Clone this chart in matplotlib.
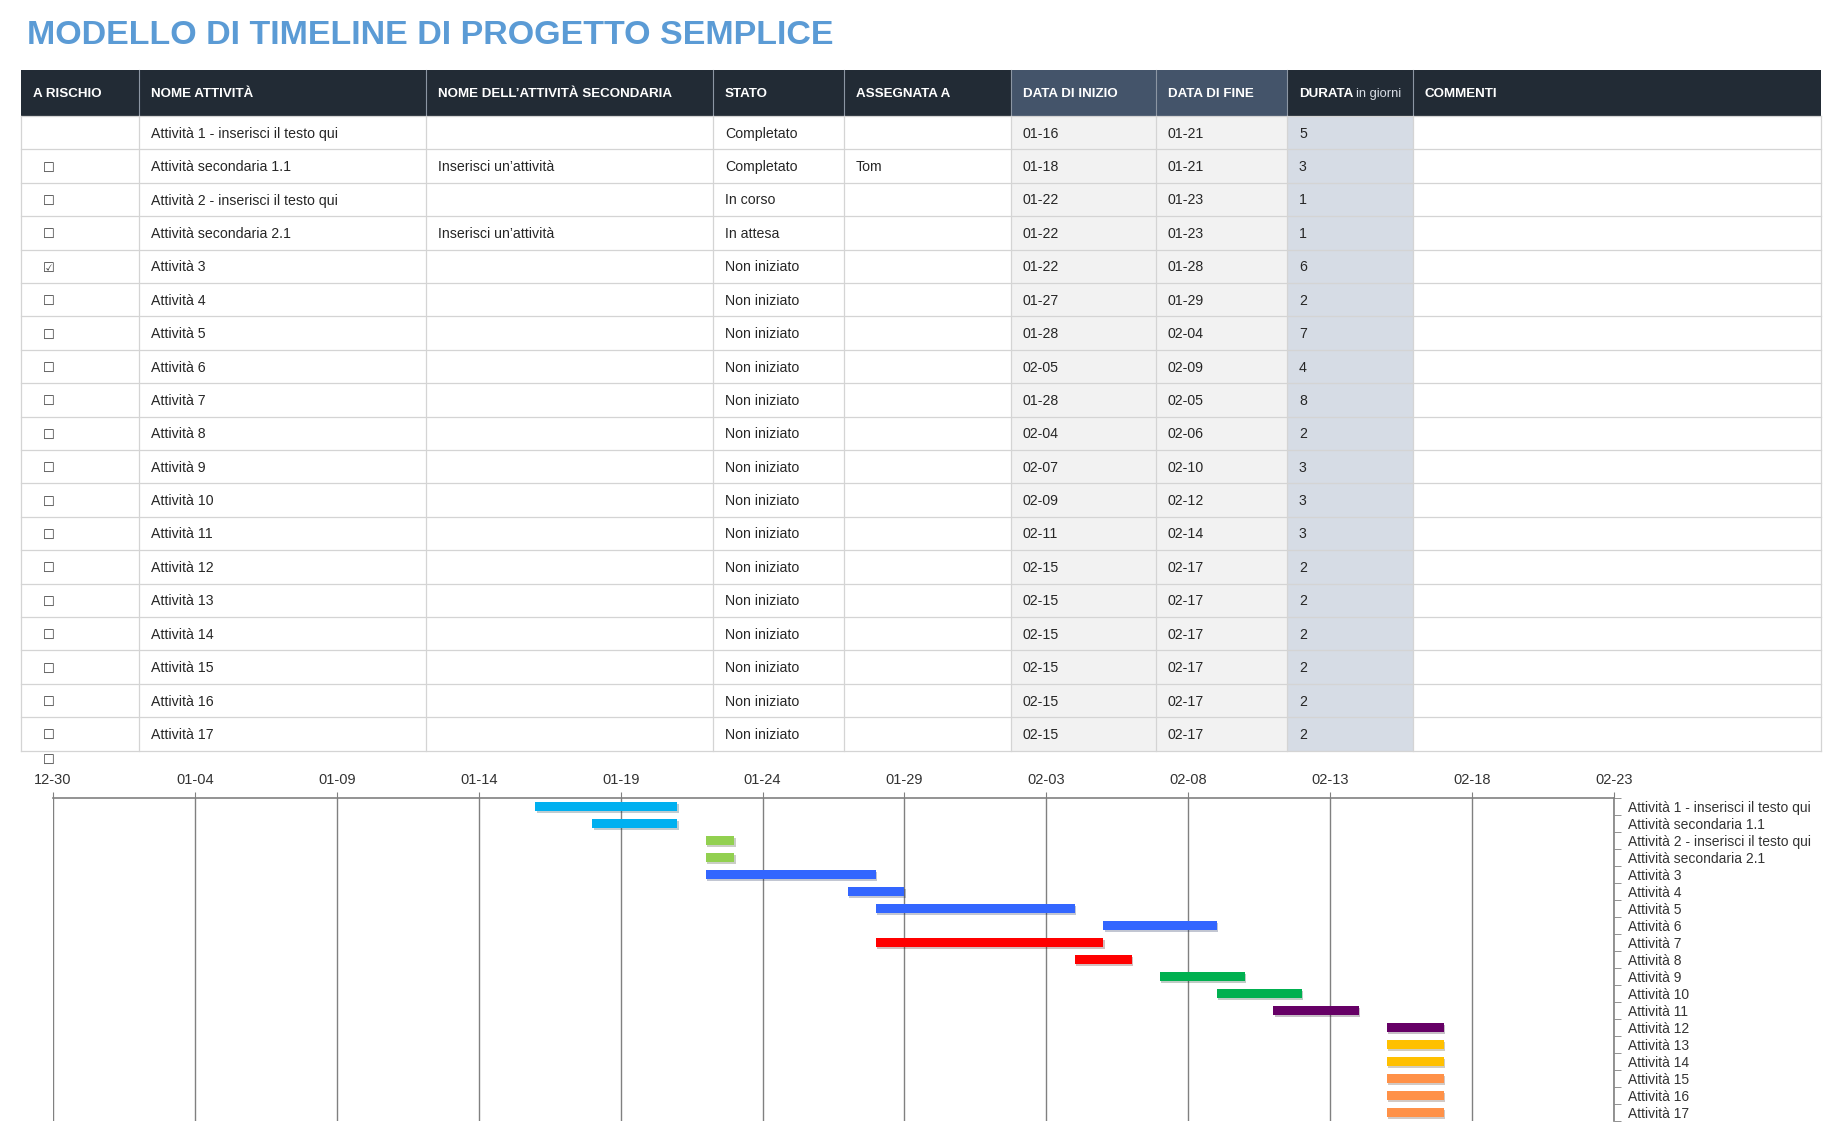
import datetime as dt
import matplotlib
matplotlib.use("Agg")
import matplotlib.pyplot as plt
import matplotlib.dates as mdates
import matplotlib.patheffects as pe
from matplotlib.patches import Rectangle

NARROW = ['Liberation Sans Narrow', 'Liberation Sans', 'DejaVu Sans']

TITLE = "MODELLO DI TIMELINE DI PROGETTO SEMPLICE"

headers = ["A RISCHIO", "NOME ATTIVITÀ", "NOME DELL’ATTIVITÀ SECONDARIA", "STATO",
           "ASSEGNATA A", "DATA DI INIZIO", "DATA DI FINE", "DURATA", "COMMENTI"]

tasks = ["Attività 1 - inserisci il testo qui", "Attività secondaria 1.1",
         "Attività 2 - inserisci il testo qui", "Attività secondaria 2.1",
         "Attività 3", "Attività 4", "Attività 5", "Attività 6", "Attività 7",
         "Attività 8", "Attività 9", "Attività 10", "Attività 11", "Attività 12",
         "Attività 13", "Attività 14", "Attività 15", "Attività 16", "Attività 17"]

sub_tasks = ["", "Inserisci un’attività", "", "Inserisci un’attività", "", "", "", "", "",
             "", "", "", "", "", "", "", "", "", ""]

stati = ["Completato", "Completato", "In corso", "In attesa", "Non iniziato", "Non iniziato",
         "Non iniziato", "Non iniziato", "Non iniziato", "Non iniziato", "Non iniziato",
         "Non iniziato", "Non iniziato", "Non iniziato", "Non iniziato", "Non iniziato",
         "Non iniziato", "Non iniziato", "Non iniziato"]

assegnata = ["", "Tom", "", "", "", "", "", "", "", "", "", "", "", "", "", "", "", "", ""]

# None = no box, False = empty box, True = ticked
a_rischio = [None, False, False, False, True, False, False, False, False, False,
             False, False, False, False, False, False, False, False, False]

start = ["01-16", "01-18", "01-22", "01-22", "01-22", "01-27", "01-28", "02-05", "01-28",
         "02-04", "02-07", "02-09", "02-11", "02-15", "02-15", "02-15", "02-15", "02-15", "02-15"]
end = ["01-21", "01-21", "01-23", "01-23", "01-28", "01-29", "02-04", "02-09", "02-05",
       "02-06", "02-10", "02-12", "02-14", "02-17", "02-17", "02-17", "02-17", "02-17", "02-17"]
durata = [5, 3, 1, 1, 6, 2, 7, 4, 8, 2, 3, 3, 3, 2, 2, 2, 2, 2, 2]

bar_colors = ["#00B0F0", "#00B0F0", "#92D050", "#92D050", "#3366FF", "#3366FF", "#3366FF",
              "#3366FF", "#FF0000", "#FF0000", "#00B050", "#00B050", "#660066", "#660066",
              "#FFC000", "#FFC000", "#FF9148", "#FF9148", "#FF9148"]

# layout (pixels)
W, H = 1841, 1134
col_x = [21, 139, 426, 713, 844, 1011, 1156, 1287, 1413, 1821]
head_top, head_bot = 70, 116
row_h = 33.4

fig = plt.figure(figsize=(W / 100, H / 100), dpi=100)
ax = fig.add_axes([0, 0, 1, 1])
ax.set_xlim(0, W)
ax.set_ylim(H, 0)
ax.axis("off")

ax.text(27, 35, TITLE, fontsize=24.5, fontweight="bold", color="#5B9BD5",
        va="center", ha="left", family=NARROW)

# header
for i in range(len(headers)):
    c = "#44546A" if i in (5, 6) else "#222B35"
    ax.add_patch(Rectangle((col_x[i], head_top), col_x[i + 1] - col_x[i], head_bot - head_top,
                           facecolor=c, edgecolor="none"))
for x in col_x[1:-1]:
    ax.plot([x, x], [head_top, head_bot], color="#8C96A3", lw=0.8)

hy = (head_top + head_bot) / 2 + 1
renderer = fig.canvas.get_renderer()
for i, h in enumerate(headers):
    t = ax.text(col_x[i] + 12, hy, h, fontsize=9.6, fontweight="bold", color="white",
                va="center", ha="left", family=NARROW)
    if h == "DURATA":
        bb = t.get_window_extent(renderer)
        ax.text(col_x[i] + 12 + bb.width + 3, hy, "in giorni", fontsize=9.3, color="#D9DEE6",
                va="center", ha="left", family=NARROW)

# body
n = len(tasks)
body_bot = head_bot + n * row_h
ax.add_patch(Rectangle((col_x[5], head_bot), col_x[7] - col_x[5], n * row_h,
                       facecolor="#F2F2F2", edgecolor="none"))
ax.add_patch(Rectangle((col_x[7], head_bot), col_x[8] - col_x[7], n * row_h,
                       facecolor="#D6DCE5", edgecolor="none"))
for r in range(n + 1):
    y = head_bot + r * row_h
    ax.plot([col_x[0], col_x[-1]], [y, y], color="#D4D4D4", lw=0.9)
for x in col_x:
    ax.plot([x, x], [head_bot, body_bot], color="#D4D4D4", lw=0.9)

for r in range(n):
    y = head_bot + (r + 0.5) * row_h
    if a_rischio[r] is not None:
        ax.text(49, y + 2, "☑" if a_rischio[r] else "☐", fontsize=9.5, color="#404040",
                ha="center", va="center", family=["DejaVu Sans"])
    vals = [tasks[r], sub_tasks[r], stati[r], assegnata[r], start[r], end[r], str(durata[r]), ""]
    for j, v in enumerate(vals):
        ax.text(col_x[j + 1] + 12, y + 1, v, fontsize=10.2, color="#262626",
                ha="left", va="center", family=NARROW)

ax.text(49, 760, "☐", fontsize=9.5, color="#404040", ha="center", va="center",
        family=["DejaVu Sans"])

# gantt
g_left, g_right, g_top, g_bot = 53, 1614, 798, 1121
gx = fig.add_axes([g_left / W, 1 - g_bot / H, (g_right - g_left) / W, (g_bot - g_top) / H])

def to_date(s):
    m, d = s.split("-")
    return dt.date(2024, int(m), int(d))

lefts = [mdates.date2num(to_date(s)) for s in start]
ypos = list(range(n))
bars = gx.barh(ypos, durata, left=lefts, height=0.5, color=bar_colors, zorder=3)
for b in bars:
    b.set_path_effects([pe.SimplePatchShadow(offset=(1, -1.5), alpha=0.25), pe.Normal()])

x0 = mdates.date2num(dt.date(2023, 12, 30))
x1 = mdates.date2num(dt.date(2024, 2, 23))
gx.set_xlim(x0, x1)
gx.set_ylim(n - 0.5, -0.5)
gx.set_xticks([x0 + 5 * k for k in range(12)])
gx.xaxis.set_major_formatter(mdates.DateFormatter("%m-%d"))
gx.xaxis.tick_top()
gx.tick_params(axis="x", length=4, color="#808080", labelsize=10.5, labelcolor="#333333", pad=4)
for lbl in gx.get_xticklabels():
    lbl.set_family(['Liberation Sans', 'DejaVu Sans'])
gx.grid(axis="x", color="#808080", lw=1.0, zorder=0)

gx.yaxis.tick_right()
gx.set_yticks(ypos)
gx.set_yticklabels(tasks, fontsize=10, color="#333333", family=['Liberation Sans', 'DejaVu Sans'])
gx.tick_params(axis="y", which="major", length=0, pad=10)
gx.set_yticks([k - 0.5 for k in range(n + 1)], minor=True)
gx.tick_params(axis="y", which="minor", length=5, color="#808080", direction="out")

for s in ("left", "bottom"):
    gx.spines[s].set_visible(False)
for s in ("top", "right"):
    gx.spines[s].set_color("#808080")
    gx.spines[s].set_linewidth(1.2)
gx.set_facecolor("none")

fig.savefig("out.png", dpi=100)
